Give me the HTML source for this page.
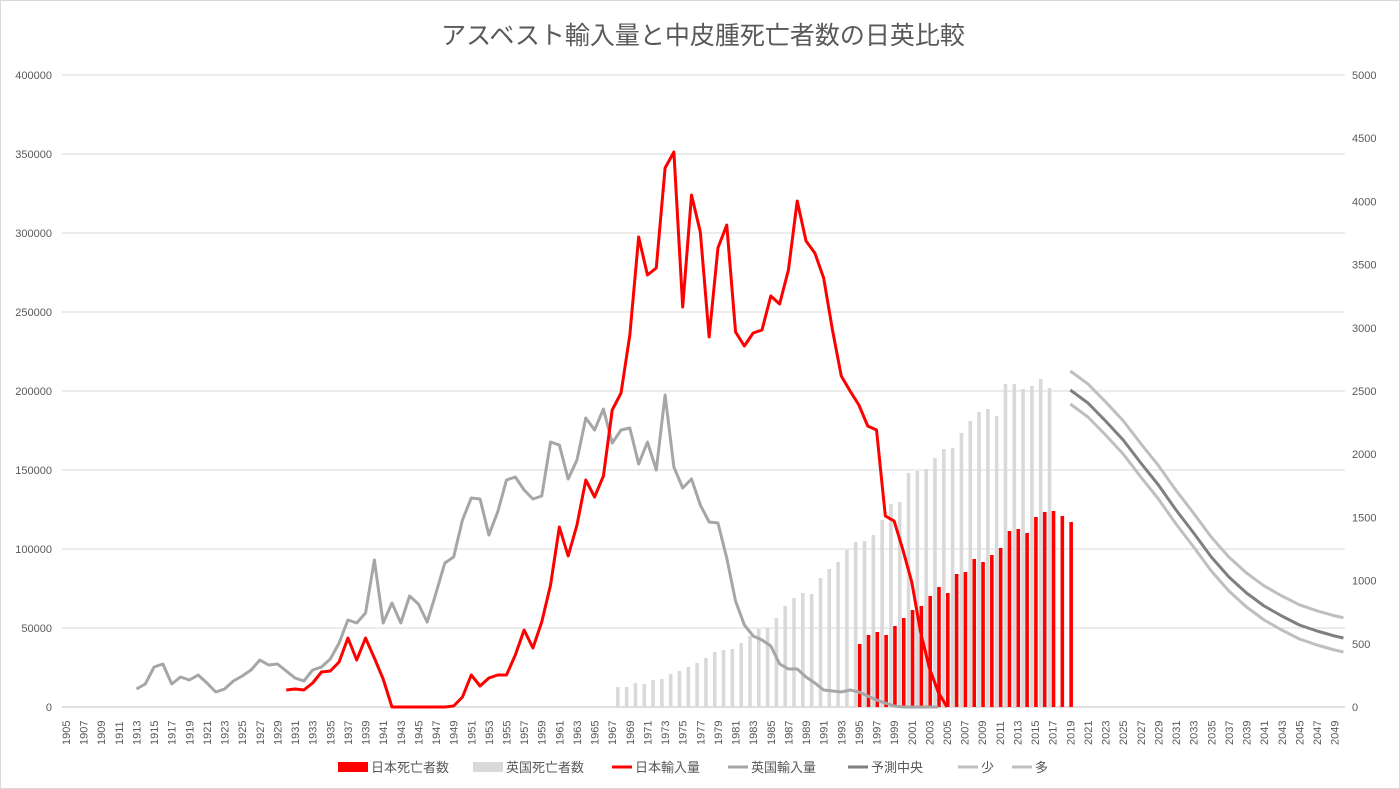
<!DOCTYPE html>
<html><head><meta charset="utf-8"><style>
body{margin:0;background:#fff;}
svg{display:block;font-family:"Liberation Sans","Noto Sans CJK JP",sans-serif;}
</style></head><body>
<svg id="c" width="1400" height="789" xmlns="http://www.w3.org/2000/svg">
<rect x="0.5" y="0.5" width="1399" height="788" fill="#fff" stroke="#d9d9d9"/>
<text x="703" y="44" text-anchor="middle" font-size="25" fill="#595959">アスベスト輸入量と中皮腫死亡者数の日英比較</text>
<g id="g"></g>
</svg>
<script>
const NS="http://www.w3.org/2000/svg",g=document.getElementById('g');
function el(t,a,txt){const e=document.createElementNS(NS,t);for(const k in a)e.setAttribute(k,a[k]);if(txt!=null)e.textContent=txt;g.appendChild(e);return e;}
const X=y=>66+(y-1905)*8.81;
for(let i=0;i<=8;i++){const y=707-i*79;
 el('line',{x1:62,x2:1345,y1:y,y2:y,stroke:i?'#d9d9d9':'#bfbfbf','stroke-width':1});
 el('text',{x:52,y:y+4,'text-anchor':'end','font-size':11,fill:'#595959'},String(i*50000));}
for(let i=0;i<=10;i++){const y=707-i*63.2;
 el('text',{x:1352,y:y+4,'font-size':11,fill:'#595959'},String(i*500));}
for(let yr=1905;yr<=2049;yr+=2){const x=X(yr)+4;
 el('text',{x:0,y:0,transform:`translate(${x},745) rotate(-90)`,'font-size':11,fill:'#595959'},String(yr));}
const uk=[687,687,683,684,680,679,674,671,667,663,658,652,650,649,643,636,629,628,618,606,598,593,594,578,569,562,550,542,541,535,520,504,502,473,471,469,458,449,448,433,421,412,409,416,384,384,389,386,379,388];
uk.forEach((v,i)=>el('rect',{x:X(1968+i)-5,y:v,width:3.6,height:707-v,fill:'#d9d9d9'}));
const jp=[644,635,632,635,626,618,610,606,596,587,593,574,572,559,562,555,548,531,529,533,517,512,511,516,522];
jp.forEach((v,i)=>el('rect',{x:X(1995+i)-1,y:v,width:3.6,height:707-v,fill:'#ff0000'}));
function line(start,arr,col,w){el('polyline',{points:arr.map((v,i)=>X(start+i)+','+v).join(' '),fill:'none',stroke:col,'stroke-width':w,'stroke-linejoin':'round'});}
const ukI=[689,684,667,664,684,677,680,675,683,692,689,681,676,670,660,665,664,671,678,681,670,667,659,643,620,623,613,560,623,603,623,596,604,622,593,563,557,520,498,499,535,512,480,477,490,499,496,442,445,479,460,418,430,409,443,430,428,464,442,470,395,467,488,479,505,522,523,558,601,625,636,640,646,664,669,669,677,683,690,691,692,690,692,696,700,703,706,707,707,707,707,707];
line(1913,ukI,'#a6a6a6',3);
const jpI=[690,689,690,683,672,671,662,638,660,638,658,679,707,707,707,707,707,707,707,706,697,675,686,678,675,675,655,630,648,622,585,527,556,525,480,497,476,410,393,335,237,275,268,168,152,307,195,232,337,248,225,332,346,333,330,296,304,270,201,241,253,278,330,376,391,405,426,430,516,521,550,582,632,668,692,707];
line(1930,jpI,'#ff0000',3);
const cK={2019:390,2021:403,2023:421,2025:440,2027:463,2029:485,2031:510,2033:533,2035:557,2037:577,2039:593,2041:606,2043:616,2045:625,2047:631,2049:636,2050:638};
const c=[];for(let y=2019;y<=2050;y++){if(cK[y]!=null)c.push(cK[y]);else c.push((cK[y-1]+cK[y+1])/2);}
line(2019,c.map(v=>v-19+(v-390)*-0.005),'#bfbfbf',3);
line(2019,c.map(v=>v+14),'#bfbfbf',3);
line(2019,c,'#7f7f7f',3);
const L=[[338,'rect','#ff0000','日本死亡者数'],[473,'rect','#d9d9d9','英国死亡者数'],[612,'line','#ff0000','日本輸入量'],[728,'line','#a6a6a6','英国輸入量'],[848,'line','#7f7f7f','予測中央'],[958,'line','#bfbfbf','少'],[1012,'line','#bfbfbf','多']];
L.forEach(([x,t,col,s])=>{
 if(t==='rect')el('rect',{x:x,y:762,width:30,height:10,fill:col});
 else el('line',{x1:x,x2:x+20,y1:767,y2:767,stroke:col,'stroke-width':3});
 el('text',{x:x+(t==='rect'?33:23),y:772,'font-size':13,fill:'#595959'},s);});
</script>
</body></html>
